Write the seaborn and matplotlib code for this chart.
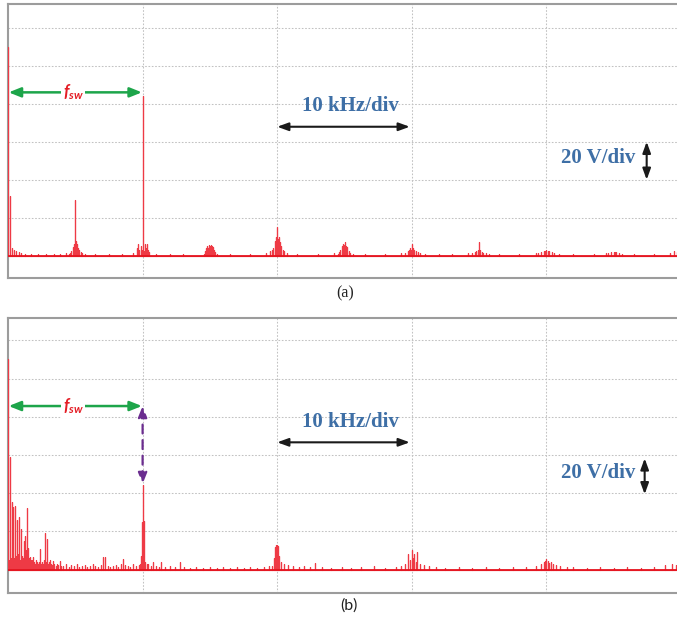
import numpy as np
import pandas as pd
import matplotlib
matplotlib.use("Agg")
import matplotlib.pyplot as plt
import seaborn as sns

# ---------------- spectrum (a): frequency in kHz, amplitude in V ----------------
a_low_f = [0.0, 0.15, 0.3, 0.45, 0.6, 0.8, 1.0, 1.3, 1.7, 2.2, 2.8, 3.4, 3.9, 4.3]
a_low_a = [110, 31.5, 4, 3, 2.5, 2, 1.5, 1, 1, 0.8, 1, 0.8, 1, 1.2]

a5_f = [4.5, 4.6, 4.7, 4.8, 4.85, 4.9, 4.95, 5.0, 5.05, 5.1, 5.15, 5.2, 5.3, 5.4, 5.5, 5.7]
a5_a = [1, 1.5, 2.5, 3.5, 4.5, 6, 17, 29.5, 8, 6, 4.5, 4, 3, 2, 1.5, 1]

a10_f = [6.5, 7.5, 8.5, 9.3, 9.55, 9.65, 9.75, 9.85, 9.9, 9.95, 10.0, 10.05, 10.1,
         10.2, 10.25, 10.3, 10.4, 10.5, 11.0, 12.0, 13.0]
a10_a = [0.8, 1, 0.8, 1.5, 4, 6, 3, 5, 2.5, 3, 84, 3, 2.5, 6, 4, 6, 3, 2, 1, 0.8, 1]

a15_f = [14.55, 14.65, 14.7, 14.75, 14.8, 14.85, 14.9, 14.95, 15.0, 15.05, 15.1,
         15.15, 15.2, 15.25, 15.3, 15.35, 15.5]
a15_a = [1, 2.5, 4, 3.5, 5, 4, 5.5, 4.5, 5, 5.5, 4, 5, 4.5, 3.5, 3, 2, 1]

a20_f = [16.5, 18.0, 19.2, 19.5, 19.6, 19.7, 19.8, 19.85, 19.9, 19.95, 20.0, 20.05,
         20.1, 20.15, 20.2, 20.3, 20.4, 20.5, 20.7, 21.5, 23.0, 24.2]
a20_a = [0.8, 1, 1.5, 2.5, 3, 4, 8, 5, 10, 6, 15, 9, 10, 6, 7, 5, 3, 2.5, 1.5, 1, 0.8, 1.5]

a25_f = [24.5, 24.6, 24.7, 24.8, 24.85, 24.9, 24.95, 25.0, 25.05, 25.1, 25.15, 25.2,
         25.3, 25.4, 25.6, 26.5, 28.0, 29.2]
a25_a = [1, 2, 3, 4, 5, 6, 5.5, 7, 6, 5, 4.5, 3.5, 2.5, 1.5, 1, 0.8, 1, 1.5]

a30_f = [29.5, 29.7, 29.8, 29.9, 29.95, 30.0, 30.05, 30.1, 30.2, 30.3, 30.45, 30.6,
         31.0, 32.0, 33.0, 34.2]
a30_a = [1.5, 2.5, 3, 4, 3, 6, 3.5, 4, 3, 2.5, 2, 1.5, 1, 0.8, 1, 1.5]

a35_f = [34.5, 34.7, 34.8, 34.9, 34.95, 35.0, 35.05, 35.1, 35.2, 35.3, 35.5, 35.7,
         36.5, 38.0, 39.2]
a35_a = [1.5, 2, 2.5, 3, 2.5, 7.5, 3, 2.5, 2, 1.5, 1.5, 1, 0.8, 1, 1.2]

a40_f = [39.4, 39.6, 39.8, 39.9, 40.0, 40.1, 40.2, 40.4, 40.6, 40.9, 42.0, 43.5, 44.4]
a40_a = [1.2, 2, 2.5, 2.5, 3, 2.5, 2.5, 2, 1.5, 1, 0.8, 1, 1.2]

a45_f = [44.6, 44.8, 45.0, 45.1, 45.2, 45.4, 45.6, 46.5, 48.0, 49.2, 49.5, 49.7]
a45_a = [1.5, 2, 2, 2.2, 2, 1.5, 1, 0.8, 1, 1.5, 2.5, 2]

# ---------------- spectrum (b) ----------------
b_low_f = [0.0, 0.05, 0.1, 0.15, 0.2, 0.25, 0.32, 0.36, 0.4, 0.45, 0.52, 0.56, 0.6,
           0.65, 0.69, 0.73, 0.78, 0.85, 0.9, 0.95, 1.0, 1.05, 1.1, 1.15, 1.2, 1.25,
           1.29, 1.34, 1.39, 1.44, 1.51, 1.56, 1.63, 1.7, 1.76, 1.82, 1.88, 1.95,
           2.02, 2.1, 2.18, 2.25, 2.32, 2.38, 2.45, 2.52, 2.6, 2.66, 2.72, 2.8, 2.86,
           2.92, 3.0, 3.06, 3.12, 3.2, 3.28, 3.36, 3.45, 3.55, 3.65, 3.75, 3.86, 3.95]
b_low_a = [110, 4, 5, 59, 6, 4, 35.5, 5, 32.5, 6, 33, 5, 7, 4, 26, 6, 8, 27.6, 5, 9,
           21, 7, 5, 6, 14.7, 8, 17.4, 10, 32.3, 9, 11.4, 6, 6.8, 5, 4, 5, 6.8, 4, 3,
           5, 4, 3, 4, 10.9, 3, 4, 3, 5, 19.3, 4, 3, 16.1, 3, 4, 5, 3, 2.5, 4.7, 3, 2,
           3, 2.5, 4.2, 2]

b_mid_f = [4.1, 4.3, 4.5, 4.7, 4.9, 5.1, 5.3, 5.5, 5.7, 5.9, 6.1, 6.3, 6.5, 6.7, 6.9,
           7.06, 7.2, 7.4, 7.6, 7.8, 8.0, 8.2, 8.4, 8.56, 8.7, 8.9, 9.1, 9.3, 9.5]
b_mid_a = [2, 3, 1.5, 2.5, 2, 3, 1.5, 2, 2.5, 1.5, 2, 3, 2, 1.5, 2.5, 6.8, 6.8, 2,
           1.5, 2, 2.5, 1.5, 3, 5.6, 2.5, 2, 1.5, 3, 2]

b10_f = [9.7, 9.8, 9.87, 9.93, 10.0, 10.07, 10.13, 10.2, 10.3, 10.4, 10.6, 10.8,
         11.0, 11.2, 11.4, 11.7, 12.0, 12.4, 12.77, 13.1, 13.5, 14.0, 14.5, 15.0,
         15.5, 16.0, 16.5, 17.0, 17.5, 18.0, 18.5, 19.0, 19.4]
b10_a = [2.5, 3, 7, 25, 44, 25.5, 8, 4, 3, 3, 2, 4, 2, 1.5, 4, 1.5, 2, 1.5, 4, 1.5,
         1, 1.5, 1, 1.5, 1, 1.2, 1, 1.5, 1, 1.2, 1, 1.5, 2]

b20_f = [19.6, 19.75, 19.85, 19.92, 20.0, 20.07, 20.15, 20.3, 20.5, 20.8, 21.2, 21.6,
         22.0, 22.4, 22.8, 23.3, 24.0, 24.8, 25.5, 26.2, 27.2, 28.0, 28.8, 29.2]
b20_a = [2, 6, 12, 13, 13, 12.5, 7, 4, 3, 2.5, 2, 1.5, 2, 1.5, 3.5, 1.5, 1, 1.2, 1,
         1.5, 2, 1, 1.5, 2]

b30_f = [29.5, 29.7, 29.85, 30.0, 30.1, 30.2, 30.3, 30.4, 30.6, 30.9, 31.3, 31.8,
         32.5, 33.5, 34.5, 35.5, 36.5, 37.5, 38.5, 39.2]
b30_a = [3, 7.9, 5, 10, 6, 7.9, 4, 9, 3, 2.5, 2, 1.5, 1, 1.2, 1, 1.5, 1, 1.2, 1.5, 2]

b40_f = [39.6, 39.8, 39.9, 40.0, 40.1, 40.2, 40.35, 40.5, 40.7, 41.0, 41.5, 42.0,
         43.0, 44.0, 45.0, 46.0, 47.0, 48.0, 48.8, 49.3, 49.6]
b40_a = [3, 4, 4.5, 5.6, 4.5, 3.5, 4, 3, 2.5, 2, 1.5, 1.2, 1, 1.2, 1, 1.2, 1, 1.5,
         2.5, 3, 2.5]

# ---------------- style ----------------
RED = "#e5141f"
SPIKE = "#ee3a45"
GREEN = "#1da54a"
BLUE = "#3e6fa6"
PURPLE = "#6b2d8f"
FRAME = "#9c9c9c"
GRID = "#c2c2c2"

sns.set_theme(style="white")
plt.rcParams["font.family"] = ["Liberation Serif", "DejaVu Serif"]
plt.rcParams["mathtext.fontset"] = "custom"
plt.rcParams["mathtext.it"] = "Lato:italic:bold"
plt.rcParams["mathtext.rm"] = "Lato:bold"

W, H = 677, 618
fig = plt.figure(figsize=(W / 100, H / 100), dpi=100)
fig.patch.set_facecolor("white")


def px_axes(left, top, width, height):
    return fig.add_axes([left / W, 1 - (top + height) / H, width / W, height / H])


def stem_frame(freqs, amps):
    f = np.asarray(freqs, dtype=float)
    a = np.asarray(amps, dtype=float)
    order = np.argsort(f, kind="stable")
    f, a = f[order], a[order]
    x = np.repeat(f, 3)
    y = np.column_stack([np.zeros_like(a), a, np.zeros_like(a)]).ravel()
    return pd.DataFrame({"freq_khz": x, "volts": y})


def draw_panel(ax, freqs, amps, ylim):
    df = stem_frame(freqs, amps)
    sns.lineplot(data=df, x="freq_khz", y="volts", sort=False, estimator=None,
                 color=SPIKE, lw=0.85, ax=ax, zorder=3)
    ax.axhline(0, color=RED, lw=1.3, zorder=3.5)
    ax.set_xlim(0, 50)
    ax.set_ylim(*ylim)
    ax.set_xticks([10, 20, 30, 40])
    ax.set_yticks([20, 40, 60, 80, 100, 120])
    ax.grid(True, color=GRID, ls=(0, (1.6, 1.6)), lw=0.75)
    ax.set_axisbelow(True)
    ax.tick_params(length=0, labelbottom=False, labelleft=False)
    ax.set_xlabel("")
    ax.set_ylabel("")
    for s in ax.spines.values():
        s.set_color(FRAME)
        s.set_linewidth(1.5)
        s.set_zorder(2.5)


def double_arrow(ax, p0, p1, color, lw=1.8, ls="-", hl=0.6, hw=0.24):
    ax.annotate("", xy=p1, xytext=p0,
                arrowprops=dict(arrowstyle=f"<|-|>,head_length={hl},head_width={hw}",
                                color=color, lw=lw, linestyle=ls,
                                shrinkA=0, shrinkB=0),
                zorder=6, annotation_clip=False)


def fsw_label(ax, y):
    double_arrow(ax, (0.05, y), (9.95, y), GREEN, lw=1.8)
    ax.text(4.85, y, r"$f_{sw}$", color="#e41e26", fontsize=12,
            ha="center", va="center", zorder=7,
            bbox=dict(fc="white", ec="none", pad=1.2))


def scale_labels(ax, y_khz_text, y_khz_arrow, y_v_text, v_arrow, x_v_arrow):
    ax.text(25.45, y_khz_text, "10 kHz/div", fontsize=15, fontweight="bold",
            color=BLUE, ha="center", va="center", zorder=7)
    double_arrow(ax, (20.0, y_khz_arrow), (29.85, y_khz_arrow), "#1a1a1a", lw=1.5,
                 hl=0.55, hw=0.2)
    ax.text(43.85, y_v_text, "20 V/div", fontsize=15, fontweight="bold",
            color=BLUE, ha="center", va="center", zorder=7)
    double_arrow(ax, (x_v_arrow, v_arrow[0]), (x_v_arrow, v_arrow[1]), "#1a1a1a",
                 lw=1.5, hl=0.55, hw=0.2)


# panel (a)
ax_a = px_axes(8, 4, 673, 274)
a_freqs = a_low_f + a5_f + a10_f + a15_f + a20_f + a25_f + a30_f + a35_f + a40_f + a45_f
a_amps = a_low_a + a5_a + a10_a + a15_a + a20_a + a25_a + a30_a + a35_a + a40_a + a45_a
draw_panel(ax_a, a_freqs, a_amps, (-11.7, 132.5))
fsw_label(ax_a, 86.0)
scale_labels(ax_a, 78.8, 67.9, 51.4, (40.0, 60.0), 47.45)

# panel (b)
ax_b = px_axes(8, 318, 673, 275)
b_freqs = b_low_f + b_mid_f + b10_f + b20_f + b30_f + b40_f
b_amps = b_low_a + b_mid_a + b10_a + b20_a + b30_a + b40_a
draw_panel(ax_b, b_freqs, b_amps, (-12.3, 131.7))
fsw_label(ax_b, 85.6)
double_arrow(ax_b, (10.0, 85.6), (10.0, 44.8), PURPLE, lw=1.6, ls=(0, (4, 3)),
             hl=0.55, hw=0.22)
scale_labels(ax_b, 77.4, 66.6, 50.4, (39.4, 58.2), 47.3)

fig.text(345 / W, 1 - 293 / H, "(a)", ha="center", va="center", fontsize=11.5,
         color="#222222")
fig.text(349 / W, 1 - 606 / H, "(b)", ha="center", va="center", fontsize=11.5,
         color="#222222", family=["Lato", "DejaVu Sans"])

fig.savefig("out.png", dpi=100, facecolor="white")
